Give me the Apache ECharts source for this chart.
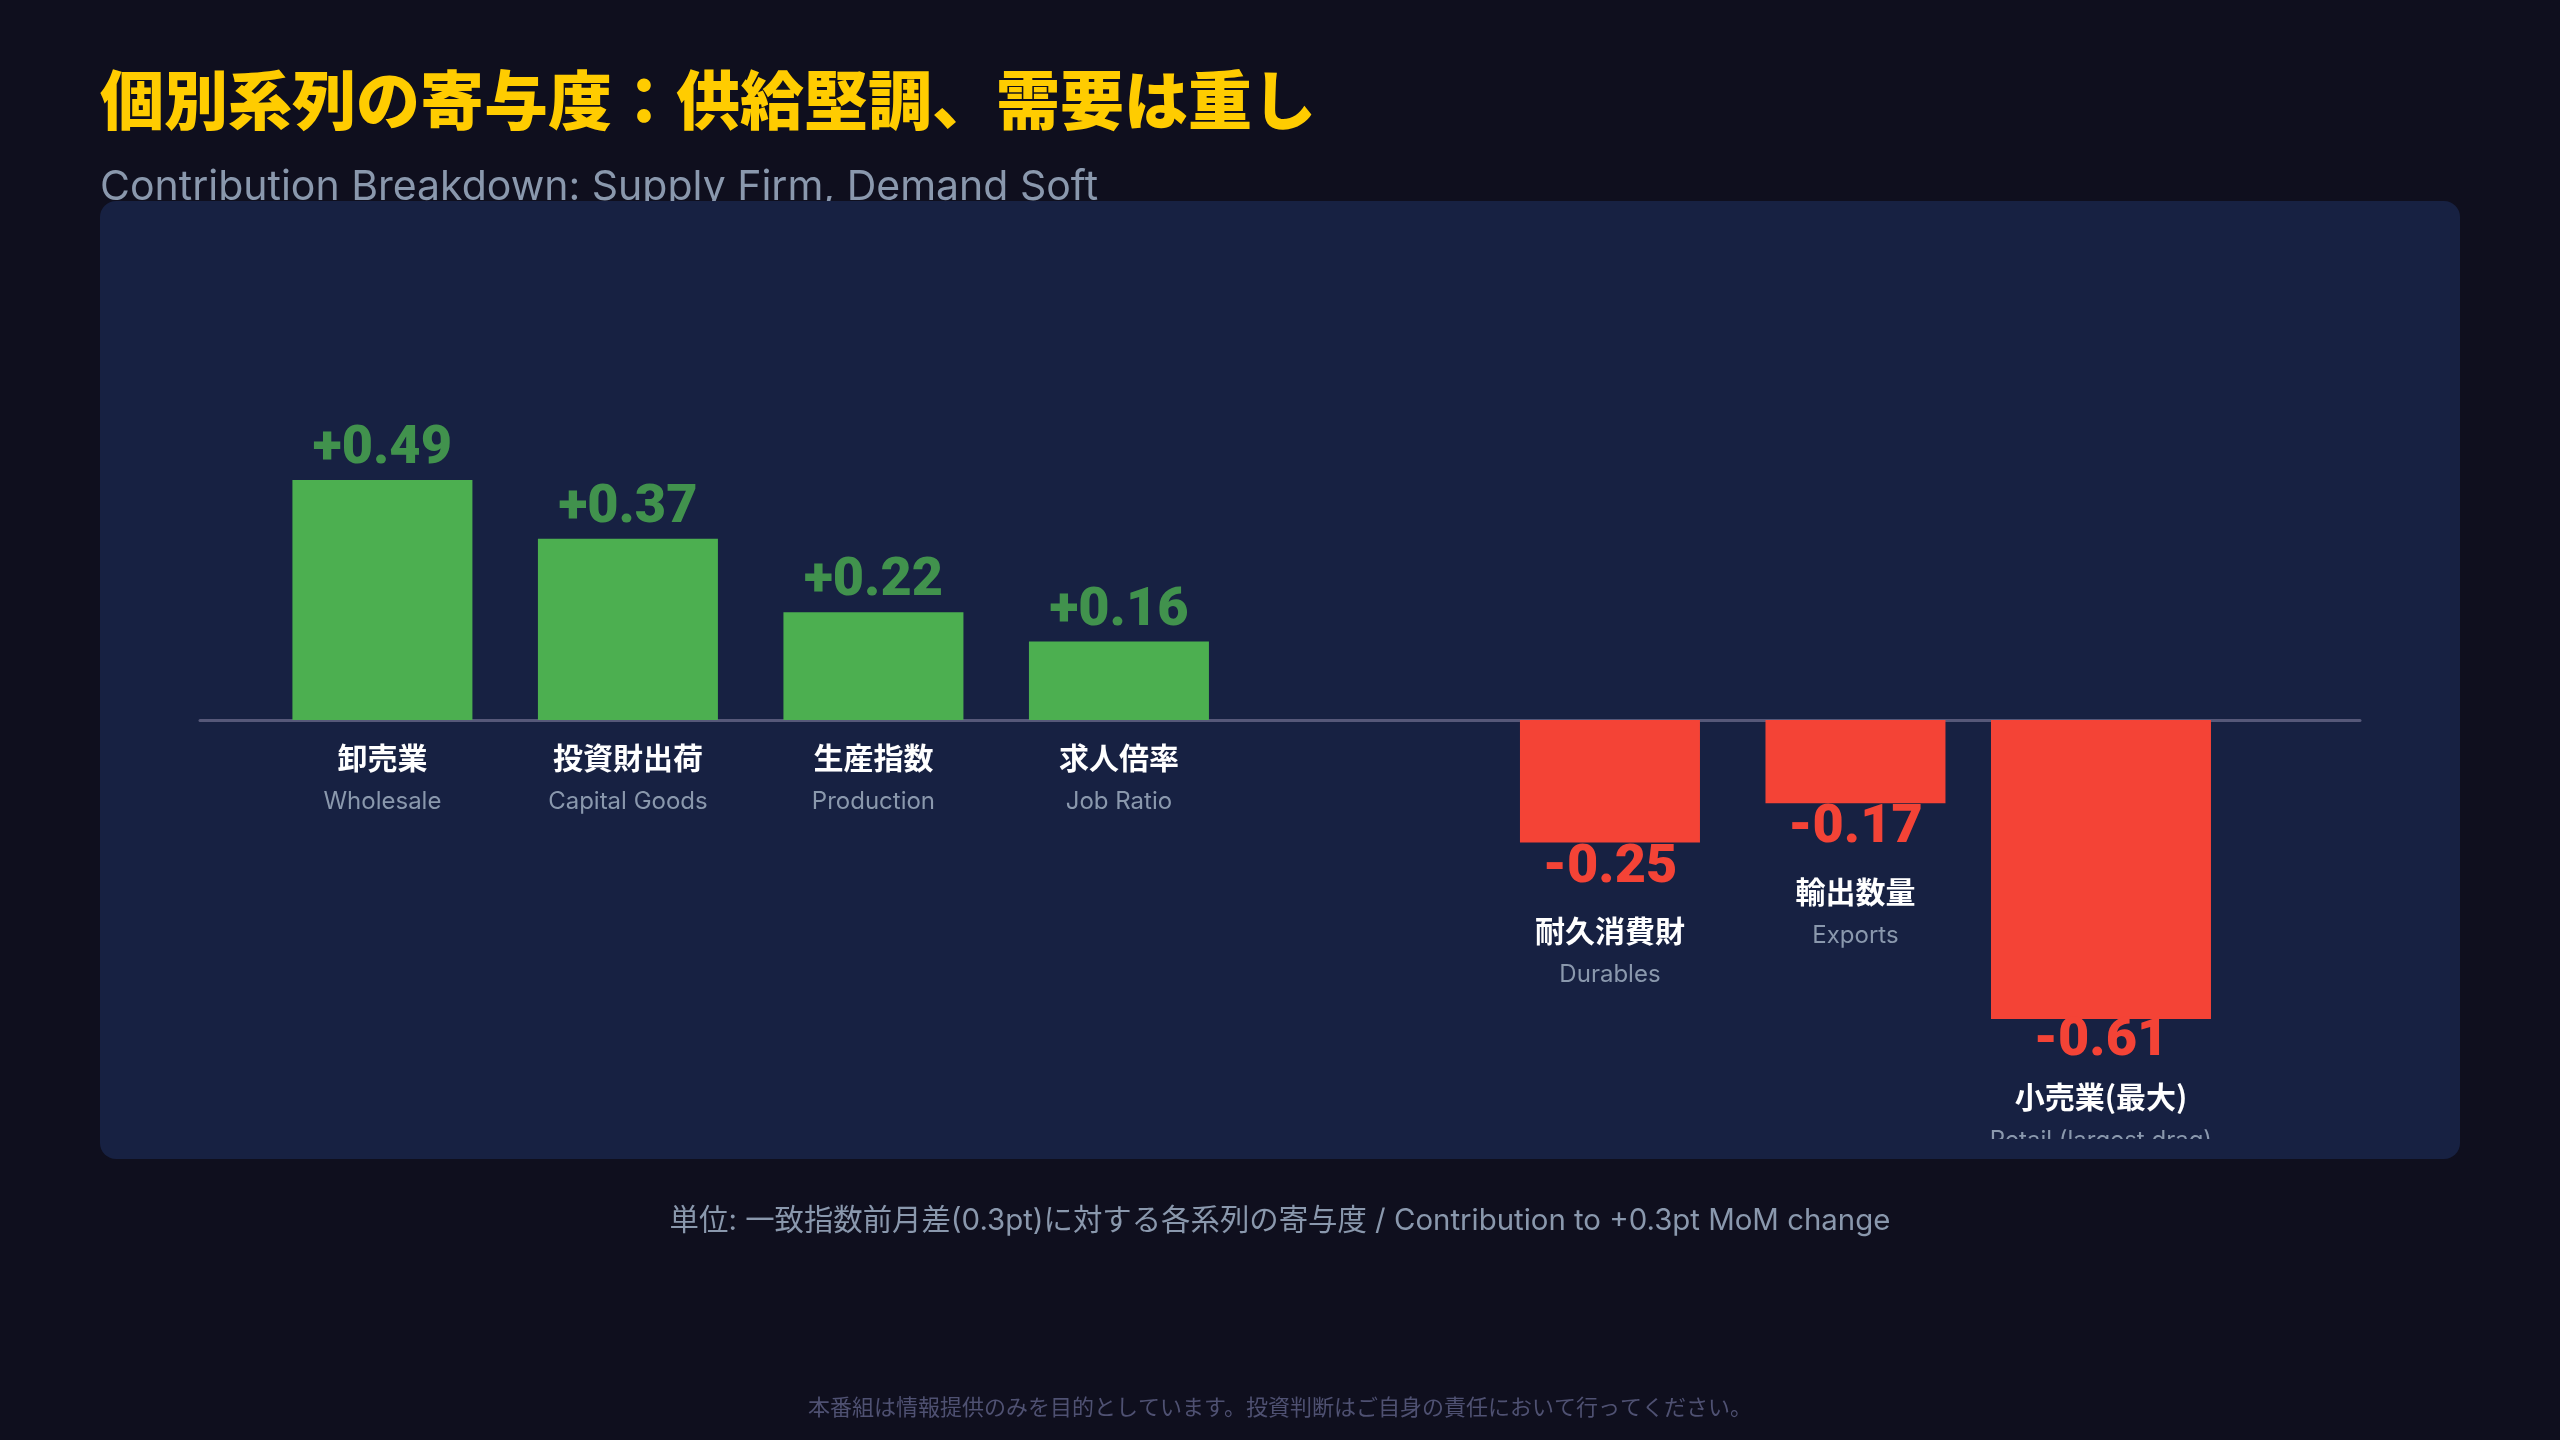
<!DOCTYPE html>
<html>
<head>
<meta charset="utf-8">
<script src="https://cdn.jsdelivr.net/npm/echarts@6/dist/echarts.min.js"></script>
<style>
html,body{margin:0;padding:0;background:#0f0f1e;}
#main{width:2560px;height:1440px;}
</style>
</head>
<body>
<div id="main"></div>
<script>
// 系列名（和・英）と寄与度
var namesJa = ['卸売業', '投資財出荷', '生産指数', '求人倍率', '耐久消費財', '輸出数量', '小売業(最大)'];
var namesEn = ['Wholesale', 'Capital Goods', 'Production', 'Job Ratio', 'Durables', 'Exports', 'Retail (largest drag)'];
var groups = ['供給', '供給', '供給', '供給', '需要', '需要', '需要'];
var values = [0.49, 0.37, 0.22, 0.16, -0.25, -0.17, -0.61];

var titleText = '個別系列の寄与度：供給堅調、需要は重し';
var subText = 'Contribution Breakdown: Supply Firm, Demand Soft';
var noteText = '単位: 一致指数前月差(0.3pt)に対する各系列の寄与度 / Contribution to +0.3pt MoM change';
var disclaimer = '本番組は情報提供のみを目的としています。投資判断はご自身の責任において行ってください。';

var UP = '#4caf50', DOWN = '#f44336', PANEL = '#172142';
var JA = '"Noto Sans CJK JP"', EN = 'Inter, "Noto Sans CJK JP"';
var NUM = 'Roboto, Inter';

var myChart = echarts.init(document.getElementById('main'));

function fmt(v){
	return (v > 0 ? '+' : '') + v.toFixed(2);
}

// 供給と需要の間に1枠あける
function slotOf(i){
	return i + (groups[i] == '需要' ? 1 : 0);
}

// 最大の押し下げ要因は太いバー
var worst = values.indexOf(Math.min.apply(null, values));

var barData = [], wideData = [], topLabels = [];
for (var i = 0; i < values.length; i++) {
	var dist = values[i] >= 0 ? 16 : (i == worst ? -10 : -15);
	var item = {
		value: [slotOf(i), values[i]],
		idx: i,
		itemStyle: {color: values[i] >= 0 ? UP : DOWN},
		label: {distance: dist}
	};
	if (i == worst) wideData.push(item); else barData.push(item);
	if (values[i] > 0) topLabels.push({value: [slotOf(i), values[i]], idx: i});
}

function barLabel(params){
	var i = params.data.idx;
	var s = '';
	if (values[i] < 0) s += '{' + (i == worst ? 'negw' : 'neg') + '|' + fmt(values[i]) + '}\n';
	s += '{ja|' + namesJa[i] + '}\n{en|' + namesEn[i] + '}';
	return s;
}

var labelOpt = {
	show: true,
	position: 'bottom',
	formatter: barLabel,
	rich: {
		neg: {fontFamily: NUM, fontWeight: 900, fontSize: 54, color: DOWN, lineHeight: 81},
		negw: {fontFamily: NUM, fontWeight: 900, fontSize: 54, color: DOWN, lineHeight: 66},
		ja: {fontFamily: JA, fontWeight: 'bold', fontSize: 30, color: '#ffffff', lineHeight: 44},
		en: {fontFamily: EN, fontSize: 24, color: '#8a98ad', lineHeight: 44}
	}
};

var xMin = -0.743, xMax = 8.055;

var option = {
	backgroundColor: '#0f0f1e',
	animation: false,
	graphic: {
		elements: [
			{type: 'text', z: 0, z2: 0, x: 100, y: 100,
				style: {text: titleText, fill: '#ffcc00', fontFamily: JA, fontWeight: 900, fontSize: 64, verticalAlign: 'middle'}},
			{type: 'text', z: 0, z2: 0, x: 100, y: 188,
				style: {text: subText, fill: '#8a98ad', fontFamily: 'Inter', fontSize: 41, verticalAlign: 'middle'}},
			{type: 'rect', z: 0, z2: 5, shape: {x: 100, y: 201, width: 2360, height: 958, r: 16},
				style: {fill: PANEL}},
			{type: 'rect', z: 10, shape: {x: 1900, y: 1139, width: 420, height: 20},
				style: {fill: PANEL}},
			{type: 'text', z: 0, x: 1280, y: 1221,
				style: {text: noteText, fill: '#8a98ad', fontFamily: EN, fontSize: 29.4, align: 'center', verticalAlign: 'middle'}},
			{type: 'text', z: 0, x: 1280, y: 1407,
				style: {text: disclaimer, fill: '#4f5172', fontFamily: JA, fontSize: 22, align: 'center', verticalAlign: 'middle'}}
		]
	},
	grid: {left: 200, right: 200, top: 328, bottom: 377},
	xAxis: [{
		type: 'value', min: xMin, max: xMax, z: 1,
		axisLine: {show: true, onZero: true, lineStyle: {color: '#565879', width: 3}},
		axisTick: {show: false},
		axisLabel: {show: false},
		splitLine: {show: false}
	},{
		type: 'value', min: xMin, max: xMax, show: false,
		splitLine: {show: false}
	}],
	yAxis: {
		type: 'value', min: -0.7, max: 0.8, show: false,
		splitLine: {show: false}
	},
	series: [{
		type: 'bar',
		xAxisIndex: 0,
		barWidth: 180,
		z: 2,
		data: barData,
		label: labelOpt
	},{
		type: 'bar',
		xAxisIndex: 1,
		barWidth: 220,
		z: 2,
		data: wideData,
		label: labelOpt
	},{
		type: 'scatter',
		xAxisIndex: 0,
		symbolSize: 1,
		silent: true,
		z: 3,
		itemStyle: {color: 'rgba(0,0,0,0)'},
		data: topLabels,
		label: {
			show: true,
			position: 'top',
			distance: 0,
			formatter: function(p){ return fmt(values[p.data.idx]); },
			fontFamily: NUM, fontWeight: 900, fontSize: 54, color: UP, lineHeight: 60
		}
	}]
};
myChart.setOption(option);
</script>
</body>
</html>
